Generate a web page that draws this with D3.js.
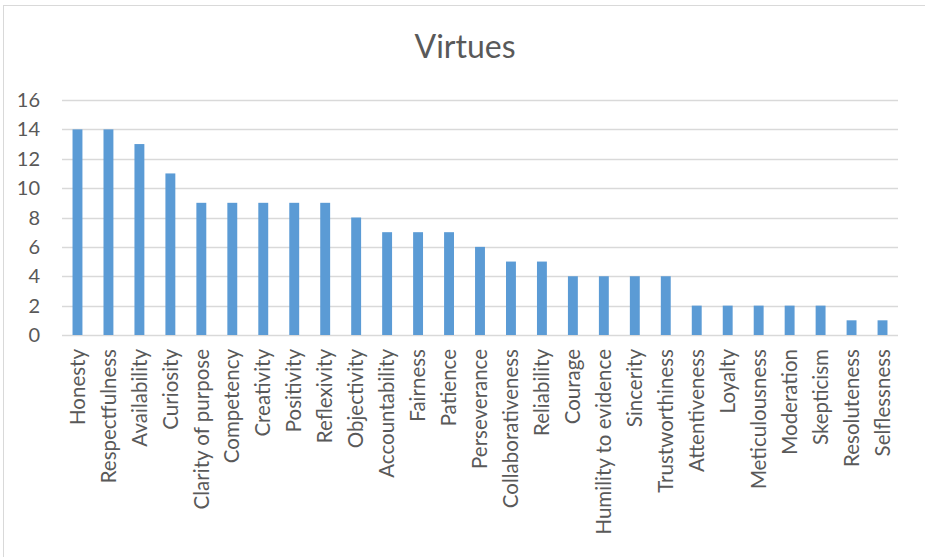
<!DOCTYPE html>
<html>
<head>
<meta charset="utf-8">
<script src="https://cdn.jsdelivr.net/npm/d3@7"></script>
<style>
  body { margin: 0; background: #fff; }
  svg { display: block; }
  text { font-family: Lato, "Open Sans", sans-serif; fill: #595959; }
</style>
</head>
<body>
<div id="chart"></div>
<script>
const categories = ['Honesty', 'Respectfulness', 'Availability', 'Curiosity', 'Clarity of purpose',
	'Competency', 'Creativity', 'Positivity', 'Reflexivity', 'Objectivity', 'Accountability',
	'Fairness', 'Patience', 'Perseverance', 'Collaborativeness', 'Reliability', 'Courage',
	'Humility to evidence', 'Sincerity', 'Trustworthiness', 'Attentiveness', 'Loyalty',
	'Meticulousness', 'Moderation', 'Skepticism', 'Resoluteness', 'Selflessness']
const counts = [14, 14, 13, 11, 9, 9, 9, 9, 9, 8, 7, 7, 7, 6, 5, 5, 4, 4, 4, 4, 2, 2, 2, 2, 2, 1, 1]
const yTicks = [0, 2, 4, 6, 8, 10, 12, 14, 16]
const title = 'Virtues'

const width = 925,
	height = 557,
	margin = { top: 100, right: 27, bottom: 222, left: 62 },
	innerW = width - margin.left - margin.right,
	innerH = height - margin.top - margin.bottom

const svg = d3.select('#chart').append('svg')
	.attr('width', width)
	.attr('height', height)

// chart border (only top/left visible)
svg.append('rect')
	.attr('x', 3.5).attr('y', 5.5)
	.attr('width', 940).attr('height', 580)
	.attr('fill', 'none')
	.attr('stroke', '#d9d9d9')

svg.append('text')
	.attr('x', 465)
	.attr('y', 58)
	.attr('text-anchor', 'middle')
	.attr('font-size', '32px')
	.text(title)

const g = svg.append('g')
	.attr('transform', `translate(${margin.left},${margin.top})`)

const x = d3.scaleBand()
	.domain(categories)
	.range([0, innerW])
	.paddingInner(0.68)
	.paddingOuter(0.34)

const y = d3.scaleLinear()
	.domain([0, 16])
	.range([innerH, 0])

// gridlines
g.selectAll('.grid')
	.data(yTicks)
	.enter().append('line')
	.attr('class', 'grid')
	.attr('x1', 0)
	.attr('x2', innerW)
	.attr('y1', (d) => Math.round(y(d)) + 0.5)
	.attr('y2', (d) => Math.round(y(d)) + 0.5)
	.attr('stroke', '#d9d9d9')
	.attr('stroke-width', 1.5)

// y labels
g.selectAll('.ylab')
	.data(yTicks)
	.enter().append('text')
	.attr('class', 'ylab')
	.attr('x', -22)
	.attr('y', (d) => y(d))
	.attr('dy', '0.35em')
	.attr('text-anchor', 'end')
	.attr('font-size', '20px')
	.text((d) => d)

// bars
g.selectAll('.bar')
	.data(counts)
	.enter().append('rect')
	.attr('class', 'bar')
	.attr('x', (d, i) => x(categories[i]))
	.attr('width', x.bandwidth())
	.attr('y', (d) => y(d))
	.attr('height', (d) => y(0) - y(d))
	.attr('fill', '#5b9bd5')

// category labels
g.selectAll('.xlab')
	.data(categories)
	.enter().append('text')
	.attr('class', 'xlab')
	.attr('transform', (d) => `translate(${x(d) + x.bandwidth() / 2},${innerH + 14}) rotate(-90)`)
	.attr('dy', '0.35em')
	.attr('text-anchor', 'end')
	.attr('font-size', '20.5px')
	.text((d) => d)
</script>
</body>
</html>
